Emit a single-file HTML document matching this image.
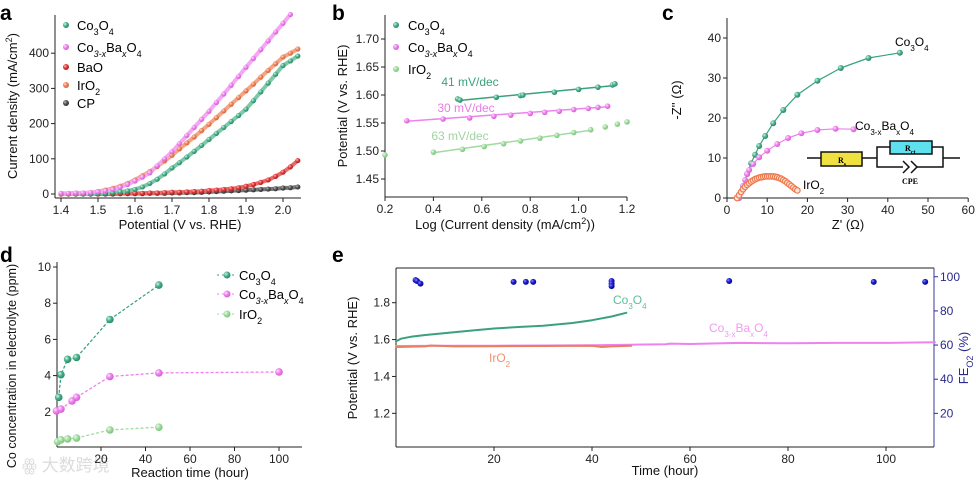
<!DOCTYPE html>
<html><head><meta charset="utf-8">
<style>
html,body{margin:0;padding:0;background:#fff;}
svg{display:block;font-family:"Liberation Sans","Noto Sans CJK SC",sans-serif;}
.tl{font-size:12px;fill:#222;}
.tt{font-size:13px;fill:#111;}
.pl{font-size:21px;font-weight:bold;fill:#000;}
</style></head>
<body>
<svg id="fig" width="976" height="482" viewBox="0 0 976 482" xmlns="http://www.w3.org/2000/svg">
<defs>
<radialGradient id="g-green" cx="35%" cy="35%" r="65%"><stop offset="0" stop-color="#d8f3e8"/><stop offset="0.5" stop-color="#49b18b"/><stop offset="1" stop-color="#2c8a66"/></radialGradient>
<radialGradient id="g-pink" cx="35%" cy="35%" r="65%"><stop offset="0" stop-color="#fde6fd"/><stop offset="0.5" stop-color="#ee82ee"/><stop offset="1" stop-color="#d860d8"/></radialGradient>
<radialGradient id="g-red" cx="35%" cy="35%" r="65%"><stop offset="0" stop-color="#f8c0c0"/><stop offset="0.5" stop-color="#e03a3a"/><stop offset="1" stop-color="#b82020"/></radialGradient>
<radialGradient id="g-orange" cx="35%" cy="35%" r="65%"><stop offset="0" stop-color="#fde0d0"/><stop offset="0.5" stop-color="#f0845a"/><stop offset="1" stop-color="#d86838"/></radialGradient>
<radialGradient id="g-gray" cx="35%" cy="35%" r="65%"><stop offset="0" stop-color="#bbb"/><stop offset="0.5" stop-color="#555"/><stop offset="1" stop-color="#333"/></radialGradient>
<radialGradient id="g-lgreen" cx="35%" cy="35%" r="65%"><stop offset="0" stop-color="#eef9ee"/><stop offset="0.5" stop-color="#a2dba2"/><stop offset="1" stop-color="#7cc67c"/></radialGradient>
<radialGradient id="g-blue" cx="35%" cy="35%" r="65%"><stop offset="0" stop-color="#8888ff"/><stop offset="0.5" stop-color="#1a1ad0"/><stop offset="1" stop-color="#0a0a90"/></radialGradient>
</defs>

<text class="pl" x="0" y="20">a</text>
<text class="pl" x="332" y="20">b</text>
<text class="pl" x="662" y="20">c</text>
<text class="pl" x="0" y="262">d</text>
<text class="pl" x="332" y="262">e</text>

<text class="tt" transform="translate(17,106) rotate(-90)" text-anchor="middle">Current density (mA/cm<tspan baseline-shift="super" font-size="9">2</tspan>)</text>
<text class="tt" x="180" y="229" text-anchor="middle">Potential (V vs. RHE)</text>
<g font-size="13">
<circle cx="66" cy="25" r="3" fill="url(#g-green)"/><text x="77" y="30">Co<tspan baseline-shift="sub" font-size="9">3</tspan>O<tspan baseline-shift="sub" font-size="9">4</tspan></text>
<circle cx="66" cy="47" r="3" fill="url(#g-pink)"/><text x="77" y="52">Co<tspan baseline-shift="sub" font-size="9" font-style="italic">3-x</tspan>Ba<tspan baseline-shift="sub" font-size="9" font-style="italic">x</tspan>O<tspan baseline-shift="sub" font-size="9">4</tspan></text>
<circle cx="66" cy="67" r="3" fill="url(#g-red)"/><text x="77" y="72">BaO</text>
<circle cx="66" cy="85" r="3" fill="url(#g-orange)"/><text x="77" y="90">IrO<tspan baseline-shift="sub" font-size="9">2</tspan></text>
<circle cx="66" cy="103" r="3" fill="url(#g-gray)"/><text x="77" y="108">CP</text>
</g>

<text class="tt" transform="translate(347,106) rotate(-90)" text-anchor="middle">Potential (V vs. RHE)</text>
<text class="tt" x="505" y="229" text-anchor="middle">Log (Current density (mA/cm<tspan baseline-shift="super" font-size="9">2</tspan>))</text>
<g font-size="13">
<circle cx="396" cy="25" r="3" fill="url(#g-green)"/><text x="408" y="30">Co<tspan baseline-shift="sub" font-size="9">3</tspan>O<tspan baseline-shift="sub" font-size="9">4</tspan></text>
<circle cx="396" cy="47" r="3" fill="url(#g-pink)"/><text x="408" y="52">Co<tspan baseline-shift="sub" font-size="9" font-style="italic">3-x</tspan>Ba<tspan baseline-shift="sub" font-size="9" font-style="italic">x</tspan>O<tspan baseline-shift="sub" font-size="9">4</tspan></text>
<circle cx="396" cy="69" r="3" fill="url(#g-lgreen)"/><text x="408" y="74">IrO<tspan baseline-shift="sub" font-size="9">2</tspan></text>
</g>
<text x="470" y="86" font-size="12" text-anchor="middle" fill="#3aa27b">41 mV/dec</text>
<text x="466" y="112" font-size="12" text-anchor="middle" fill="#e67ee6">30 mV/dec</text>
<text x="460" y="140" font-size="12" text-anchor="middle" fill="#9fd49f">63 mV/dec</text>

<text class="tt" transform="translate(681,100) rotate(-90)" text-anchor="middle">-Z'' (Ω)</text>
<text class="tt" x="848" y="229" text-anchor="middle">Z' (Ω)</text>
<text x="895" y="46" font-size="12">Co<tspan baseline-shift="sub" font-size="8">3</tspan>O<tspan baseline-shift="sub" font-size="8">4</tspan></text>
<text x="855" y="130" font-size="12">Co<tspan baseline-shift="sub" font-size="8">3-x</tspan>Ba<tspan baseline-shift="sub" font-size="8">x</tspan>O<tspan baseline-shift="sub" font-size="8">4</tspan></text>
<text x="803" y="189" font-size="12">IrO<tspan baseline-shift="sub" font-size="8">2</tspan></text>
<g stroke="#111" stroke-width="1.5" fill="none">
<line x1="807" y1="158" x2="821" y2="158"/>
<rect x="821" y="152" width="41" height="14" fill="#f0e040"/>
<line x1="862" y1="158" x2="877" y2="158"/>
<polyline points="890,147 877,147 877,167 903,167"/>
<rect x="890" y="141" width="42" height="13" fill="#5ee0ee"/>
<polyline points="932,147 943,147 943,167 917,167"/>
<polyline points="903,161 909,167 903,173"/>
<polyline points="911,161 917,167 911,173"/>
<line x1="943" y1="158" x2="960" y2="158"/>
</g>
<text x="838" y="163" font-size="8" font-family="Liberation Serif,serif" font-weight="bold">R<tspan baseline-shift="sub" font-size="6">s</tspan></text>
<text x="905" y="151" font-size="8" font-family="Liberation Serif,serif" font-weight="bold">R<tspan baseline-shift="sub" font-size="6">ct</tspan></text>
<text x="910" y="184" font-size="8" text-anchor="middle" font-family="Liberation Serif,serif" font-weight="bold">CPE</text>

<text font-size="12.5" fill="#111" transform="translate(16,366) rotate(-90)" text-anchor="middle">Co concentration in electrolyte (ppm)</text>
<text class="tt" x="190" y="477" text-anchor="middle">Reaction time (hour)</text>
<text x="22" y="471" font-size="17" fill="#dcdcdc">ꙮ 大数跨境</text>
<g font-size="13">
<line x1="217" y1="275" x2="236" y2="275" stroke="#3aa27b" stroke-dasharray="2,3"/><circle cx="227" cy="275" r="3.5" fill="url(#g-green)"/><text x="239" y="280">Co<tspan baseline-shift="sub" font-size="9">3</tspan>O<tspan baseline-shift="sub" font-size="9">4</tspan></text>
<line x1="217" y1="294" x2="236" y2="294" stroke="#ee82ee" stroke-dasharray="2,3"/><circle cx="227" cy="294" r="3.5" fill="url(#g-pink)"/><text x="239" y="299">Co<tspan baseline-shift="sub" font-size="9" font-style="italic">3-x</tspan>Ba<tspan baseline-shift="sub" font-size="9" font-style="italic">x</tspan>O<tspan baseline-shift="sub" font-size="9">4</tspan></text>
<line x1="217" y1="314" x2="236" y2="314" stroke="#a2dba2" stroke-dasharray="2,3"/><circle cx="227" cy="314" r="3.5" fill="url(#g-lgreen)"/><text x="239" y="319">IrO<tspan baseline-shift="sub" font-size="9">2</tspan></text>
</g>

<text class="tt" transform="translate(357,358) rotate(-90)" text-anchor="middle">Potential (V vs. RHE)</text>
<text class="tt" x="665" y="475" text-anchor="middle">Time (hour)</text>
<text fill="#2a2a90" font-size="13" transform="translate(968,358) rotate(-90)" text-anchor="middle">FE<tspan baseline-shift="sub" font-size="9">O2</tspan> (%)</text>
<text x="613" y="304" font-size="12" fill="#5cbf98">Co<tspan baseline-shift="sub" font-size="8">3</tspan>O<tspan baseline-shift="sub" font-size="8">4</tspan></text>
<text x="489" y="362" font-size="12" fill="#f09070">IrO<tspan baseline-shift="sub" font-size="8">2</tspan></text>
<text x="709" y="332" font-size="12" fill="#f09af0">Co<tspan baseline-shift="sub" font-size="8">3-x</tspan>Ba<tspan baseline-shift="sub" font-size="8">x</tspan>O<tspan baseline-shift="sub" font-size="8">4</tspan></text>
</svg>

<script>
const aPotential = [1.40,1.42,1.44,1.46,1.48,1.50,1.52,1.54,1.56,1.58,1.60,1.62,1.64,1.66,1.68,1.70,1.72,1.74,1.76,1.78,1.80,1.82,1.84,1.86,1.88,1.90,1.92,1.94,1.96,1.98,2.00,2.02,2.04];
const aCo3O4 = [0,0,0,0,0,1,2,4,6,9,13,20,30,42,57,74,89,105,121,138,155,172,189,206,223,241,265,290,315,340,365,378,392];
const aCoBaO = [2,2,3,3,4,6,9,13,19,27,37,48,60,80,100,120,143,166,189,212,235,260,284,309,334,360,385,410,435,460,485,510];
const aIrO2 = [0,0,1,2,4,7,11,16,22,30,40,52,64,78,94,110,128,145,162,180,198,217,236,255,274,293,312,332,351,370,389,400,412];
const aBaO = [0,0,0,0,0,0,1,1,1,2,2,2,3,3,4,5,5,6,7,8,10,11,13,15,18,22,27,33,40,50,62,77,95];
const aCP = [0,0,0,0,0,0,0,0,1,1,1,1,2,2,2,3,3,4,4,5,6,7,8,9,10,11,12,13,14,15,17,18,20];
const aXTicks = [1.4,1.5,1.6,1.7,1.8,1.9,2.0];
const aYTicks = [0,100,200,300,400];
const bCoX = [0.50,0.51,0.66,0.76,0.77,0.90,1.00,1.08,1.14,1.15];
const bCoY = [1.593,1.591,1.596,1.599,1.600,1.605,1.610,1.614,1.618,1.620];
const bCoFit = [0.50,1.590,1.15,1.617];
const bCbX = [0.29,0.44,0.55,0.65,0.72,0.80,0.86,0.92,0.98,1.04,1.08,1.12];
const bCbY = [1.554,1.557,1.559,1.562,1.564,1.567,1.569,1.571,1.574,1.576,1.578,1.580];
const bCbFit = [0.29,1.553,1.12,1.579];
const bIrX = [0.20,0.40,0.52,0.61,0.69,0.76,0.84,0.91,0.98,1.05,1.11,1.16,1.20];
const bIrY = [1.493,1.498,1.503,1.508,1.513,1.518,1.523,1.528,1.533,1.538,1.543,1.548,1.552];
const bIrFit = [0.40,1.497,1.05,1.537];
const bXTicks = [0.2,0.4,0.6,0.8,1.0,1.2];
const bYTicks = [1.45,1.50,1.55,1.60,1.65,1.70];
const cCoRe = [3,4,5,6,7,8,9.5,11.5,14,17.5,22.5,28.3,35.2,43];
const cCoIm = [0,3,6,8.7,10.8,13,15.5,18.7,22,25.8,29.3,32.5,35,36.3];
const cCbRe = [3,3.5,4,4.5,5,5.5,6.5,8,10,12.5,15.2,18.5,22.5,27,31.5];
const cCbIm = [0,1.5,3,4.5,6,7,8.5,10.2,11.8,13.5,15,16.2,17,17.3,17.2];
const cIrRe = [2.5,3,3.5,4,4.5,5,5.5,6,6.5,7,7.5,8,8.5,9,9.5,10,10.5,11,11.5,12,12.5,13,13.5,14,14.5,15,15.5,16,16.5,17,17.5];
const cIrIm = [0,0.7,1.5,2.2,2.8,3.3,3.7,4.1,4.4,4.7,4.9,5.1,5.2,5.3,5.4,5.4,5.4,5.4,5.4,5.3,5.2,5.0,4.8,4.5,4.2,3.8,3.4,3.0,2.6,2.2,1.9];
const cXTicks = [0,10,20,30,40,50,60];
const cYTicks = [0,10,20,30,40];
const dCoT = [1,2,5,9,24,46];
const dCoC = [2.8,4.05,4.9,5.0,7.1,9.0];
const dCbT = [0,2,7,9,24,46,100];
const dCbC = [2.05,2.15,2.6,2.8,3.95,4.15,4.2];
const dIrT = [0.5,2,5,9,24,46];
const dIrC = [0.35,0.45,0.5,0.55,1.0,1.15];
const dXTicks = [20,40,60,80,100];
const dYTicks = [2,4,6,8,10];
const eCoT = [0,1,3,6,10,15,20,25,30,36,40,44,47];
const eCoV = [1.590,1.605,1.615,1.625,1.635,1.648,1.660,1.668,1.675,1.690,1.705,1.725,1.745];
const eIrT = [0,6,7,12,20,30,40,42,44,48];
const eIrV = [1.560,1.563,1.568,1.563,1.564,1.565,1.566,1.560,1.563,1.566];
const eCbT = [0,10,20,30,40,48,55,56,60,70,80,90,100,110];
const eCbV = [1.565,1.566,1.567,1.568,1.569,1.572,1.575,1.578,1.576,1.582,1.580,1.582,1.582,1.586];
const eFeT = [4,4.3,5,24,26.5,28,44,44,44,68,97.5,108];
const eFeV = [98,97.5,96,97,97,97,97.5,96,94.5,97.5,97,97];
const eXTicks = [20,40,60,80,100];
const eYTicks = [1.2,1.4,1.6,1.8];
const eRTicks = [20,40,60,80,100];

const NS = 'http://www.w3.org/2000/svg';
const svg = document.getElementById('fig');
function mk(tag, attrs){ const e=document.createElementNS(NS,tag); for(const k in attrs) e.setAttribute(k,attrs[k]); svg.appendChild(e); return e; }

const xa=v=>61+(v-1.4)*370, ya=v=>194-v*0.352;
const xb=v=>385+(v-0.2)*242, yb=v=>39+(1.70-v)*560;
const xc=v=>727+v*4.02, yc=v=>198-v*4;
const xd=v=>56.5+v*2.225, yd=v=>448-v*18.1;
const xe=v=>396+v*4.9, ye=v=>302.7-(v-1.8)*184.4, yr=v=>447.5-v*1.7075;

function axisL(x,y1,y2,name,color){
  const l=mk('line',{x1:x,y1:y1,x2:x,y2:y2,stroke:color||'#222','stroke-width':1});
  
  
}
function axisB(y,x1,x2,name){
  const l=mk('line',{x1:x1,y1:y,x2:x2,y2:y,stroke:'#222','stroke-width':1});
  
  
}
function yTicks(ticks,sc,xAx,fmt,name,side,color){
  ticks.forEach(t=>{
    const y=sc(t); const d=side==='r'?4:-4;
    const tk=mk('line',{x1:xAx,y1:y,x2:xAx+d,y2:y,stroke:color||'#222'});
    
    
    const tx=mk('text',{x:side==='r'?xAx+6:xAx-6,y:y+4,'text-anchor':side==='r'?'start':'end','font-size':12,fill:color||'#222'});
    tx.textContent=fmt(t);
    
    
  });
}
function xTicks(ticks,sc,yAx,fmt,name){
  ticks.forEach(t=>{
    const x=sc(t);
    const tk=mk('line',{x1:x,y1:yAx,x2:x,y2:yAx+4,stroke:'#222'});
    
    
    const tx=mk('text',{x:x,y:yAx+16,'text-anchor':'middle','font-size':12,fill:'#222'});
    tx.textContent=fmt(t);
    
    
  });
}
function dots(xs,ys,sx,sy,r,grad,name,ring){
  xs.forEach((v,i)=>{
    if(ys[i]===undefined) return;
    const c=mk('circle',{cx:sx(v),cy:sy(ys[i]),r:r,fill:ring?'#fde3d6':'url(#'+grad+')',stroke:ring||'none','stroke-width':ring?1.2:0});
    
    
  });
}
function line(xs,ys,sx,sy,color,w,dash,name){
  const n=Math.min(xs.length,ys.length);
  const pts=xs.slice(0,n).map((v,i)=>sx(v).toFixed(1)+','+sy(ys[i]).toFixed(1)).join(' ');
  const p=mk('polyline',{points:pts,fill:'none',stroke:color,'stroke-width':w,'stroke-dasharray':dash||'none','stroke-linejoin':'round','stroke-linecap':'round'});
  
  
}

// panel a
axisL(55,15,198,'a-y-axis'); axisB(198,55,301,'a-x-axis');
yTicks(aYTicks,ya,55,t=>t,'a-y');
xTicks(aXTicks,xa,198,t=>t.toFixed(1),'a-x');
line(aPotential,aCP,xa,ya,'#777',4,null,'a-cp-trace');
line(aPotential,aBaO,xa,ya,'#e86a6a',4,null,'a-bao-trace');
line(aPotential,aCo3O4,xa,ya,'#7fc9ab',4,null,'a-co3o4-trace');
line(aPotential,aIrO2,xa,ya,'#f4a585',4,null,'a-iro2-trace');
line(aPotential,aCoBaO,xa,ya,'#f4a8f4',4,null,'a-cobao-trace');
dots(aPotential,aCP,xa,ya,2.6,'g-gray','a-cp-point');
dots(aPotential,aBaO,xa,ya,2.6,'g-red','a-bao-point');
dots(aPotential,aCo3O4,xa,ya,2.6,'g-green','a-co3o4-point');
dots(aPotential,aIrO2,xa,ya,2.6,'g-orange','a-iro2-point');
dots(aPotential,aCoBaO,xa,ya,2.6,'g-pink','a-cobao-point');

// panel b
axisL(385,15,197,'b-y-axis'); axisB(197,385,627,'b-x-axis');
yTicks(bYTicks,yb,385,t=>t.toFixed(2),'b-y');
xTicks(bXTicks,xb,197,t=>t.toFixed(1),'b-x');
line([bCoFit[0],bCoFit[2]],[bCoFit[1],bCoFit[3]],xb,yb,'#3aa27b',1.5,null,'b-co3o4-fit');
line([bCbFit[0],bCbFit[2]],[bCbFit[1],bCbFit[3]],xb,yb,'#ee82ee',1.5,null,'b-cobao-fit');
line([bIrFit[0],bIrFit[2]],[bIrFit[1],bIrFit[3]],xb,yb,'#a2dba2',1.5,null,'b-iro2-fit');
dots(bCoX,bCoY,xb,yb,2.8,'g-green','b-co3o4-point');
dots(bCbX,bCbY,xb,yb,2.8,'g-pink','b-cobao-point');
dots(bIrX,bIrY,xb,yb,2.8,'g-lgreen','b-iro2-point');

// panel c
axisL(727,18,198,'c-y-axis'); axisB(198,727,968,'c-x-axis');
yTicks(cYTicks,yc,727,t=>t,'c-y');
xTicks(cXTicks,xc,198,t=>t,'c-x');
line(cCoRe,cCoIm,xc,yc,'#3aa27b',1.2,null,'c-co3o4-line');
line(cCbRe,cCbIm,xc,yc,'#ee82ee',1.2,null,'c-cobao-line');
dots(cCoRe,cCoIm,xc,yc,3,'g-green','c-co3o4-point');
dots(cCbRe,cCbIm,xc,yc,3,'g-pink','c-cobao-point');
dots(cIrRe,cIrIm,xc,yc,2.8,'g-orange','c-iro2-point','#ee7a50');

// panel d
axisL(57,262,447,'d-y-axis'); axisB(447,57,302,'d-x-axis');
yTicks(dYTicks,yd,57,t=>t,'d-y');
xTicks(dXTicks,xd,447,t=>t,'d-x');
line(dCoT,dCoC,xd,yd,'#3aa27b',1.3,'2,3','d-co3o4-line');
line(dCbT,dCbC,xd,yd,'#ee82ee',1.3,'2,3','d-cobao-line');
line(dIrT,dIrC,xd,yd,'#a2dba2',1.3,'2,3','d-iro2-line');
dots(dCoT,dCoC,xd,yd,3.8,'g-green','d-co3o4-point');
dots(dCbT,dCbC,xd,yd,3.8,'g-pink','d-cobao-point');
dots(dIrT,dIrC,xd,yd,3.8,'g-lgreen','d-iro2-point');

// panel e
axisB(268,396,934,'e-top-frame'); axisB(447,396,934,'e-x-axis');
axisL(396,268,447,'e-y-axis'); axisL(934,268,447,'e-right-axis','#3a3a9a');
yTicks(eYTicks,ye,396,t=>t.toFixed(1),'e-y');
yTicks(eRTicks,yr,934,t=>t,'e-right','r','#2a2a90');
xTicks(eXTicks,xe,447,t=>t,'e-x');
line(eCbT,eCbV,xe,ye,'#ee82ee',2,null,'e-cobao-line');
line(eIrT,eIrV,xe,ye,'#e8805c',2,null,'e-iro2-line');
line(eCoT,eCoV,xe,ye,'#3aa27b',2,null,'e-co3o4-line');
dots(eFeT,eFeV,xe,yr,3,'g-blue','e-fe-point');
</script>
</body></html>
